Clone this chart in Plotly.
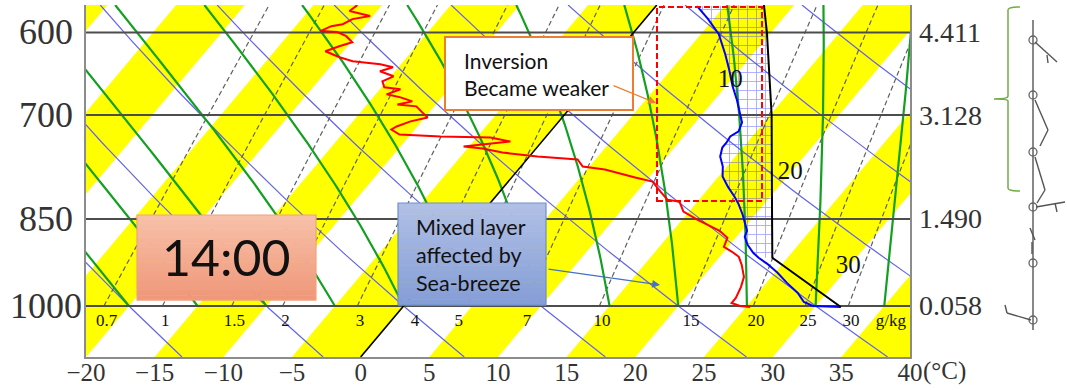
import numpy as np
import plotly.graph_objects as go

# ---------------- data ----------------
# environmental temperature profile (blue)
T_PRES = [571.2, 585.2, 601.9, 624.9, 642.7, 663.5, 679.8, 696.6, 709.8, 721.8, 728.6,
          736.8, 743.8, 756.5, 770.7, 785.3, 800.2, 815.3, 827.6, 843.3, 859.2, 868.9,
          878.7, 892.0, 905.5, 914.0, 924.3, 940.0, 957.8, 975.9, 992.5, 1000.0, 1001.9]
T_TEMP = [3.0, 4.6, 6.3, 8.0, 9.2, 10.5, 11.6, 12.6, 13.4, 13.7, 13.4,
          13.5, 13.5, 13.9, 14.7, 15.3, 16.3, 17.4, 18.2, 19.1, 19.9, 20.4,
          20.6, 21.3, 22.2, 22.9, 23.9, 25.2, 26.5, 27.9, 28.9, 29.8, 31.9]

# dew-point profile (red)
TD_PRES = [570.1, 576.5, 581.9, 585.2, 590.8, 593.0, 598.5, 599.6, 604.2, 611.0, 615.6,
           621.4, 628.4, 633.1, 636.7, 640.2, 645.1, 651.2, 657.4, 664.7, 667.2, 673.5,
           677.3, 682.4, 686.3, 688.8, 696.6, 703.2, 708.4, 715.2, 719.2, 726.0, 728.6,
           730.0, 735.5, 742.4, 745.2, 750.8, 756.5, 760.7, 770.7, 775.1, 786.8, 792.7,
           807.7, 819.9, 823.0, 838.5, 851.2, 862.4, 868.9, 880.4, 895.4, 903.8, 912.3,
           926.1, 947.1, 965.0, 985.1, 994.4, 1000.0, 1001.9]
TD_TEMP = [-21.8, -22.0, -20.2, -21.3, -21.7, -22.4, -22.9, -21.6, -20.7, -19.9, -20.6,
           -21.3, -19.9, -18.7, -16.5, -15.4, -16.1, -14.8, -15.3, -14.8, -13.5, -14.2,
           -13.0, -11.9, -12.8, -11.3, -10.5, -9.8, -10.8, -11.5, -11.7, -10.8, -7.7,
           -4.0, -2.3, -5.4, -3.9, -2.2, 0.6, 3.7, 4.5, 6.3, 9.0, 10.5,
           11.7, 12.7, 13.7, 14.6, 16.1, 17.5, 18.4, 19.4, 19.7, 20.6, 21.4,
           22.1, 23.0, 23.4, 23.7, 23.7, 24.5, 25.3]

# lifted parcel path (black)
PARCEL_PRES = [1001.9, 914.0, 850.0, 700.0, 600.0, 570.0]
PARCEL_TEMP = [31.9, 23.9, 21.5, 15.1, 9.7, 7.8]
LCL_PRES = 914.0

# chart grid definitions
X_TICKS = [-20, -15, -10, -5, 0, 5, 10, 15, 20, 25, 30, 35, 40]
ISOBARS = [600, 700, 850, 1000]
ISOBAR_LABELS = ["600", "700", "850", "1000"]
HEIGHT_KM = ["4.411", "3.128", "1.490", "0.058"]
THETA_C = [-20, -10, 0, 10, 20, 30, 40, 50, 60]
MOIST_T1000 = [-20, -15, -10, -5, 0, 5, 10, 15, 20, 25, 30, 35]
MIXR = [0.7, 1, 1.5, 2, 3, 4, 5, 7, 10, 15, 20, 25, 30]
MIXR_LABELS = ["0.7", "1", "1.5", "2", "3", "4", "5", "7", "10", "15", "20", "25", "30"]
BAND_T_LO = [-45, -35, -25, -15, -5, 5, 15, 25, 35]
ISO_LABEL_T = [10, 20, 30]
ISO_LABEL_P = [657, 780, 930]

P_BOT, P_TOP = 1100.0, 570.0
SKEW = 32.8


def skx(t, p):
    return np.asarray(t, float) + SKEW * np.log(P_BOT / np.asarray(p, float))


def es(tc):
    return 6.112 * np.exp(17.67 * tc / (tc + 243.5))


def moist_rate(tk, p):
    e = es(tk - 273.15)
    rs = 0.622 * e / (p - e)
    Lv, Rd, Cp = 2.501e6, 287.04, 1005.7
    return (Rd * tk + Lv * rs) / (Cp + Lv * Lv * rs * 0.622 / (Rd * tk * tk))


def moist_line(t0):
    lnp = np.linspace(np.log(1000.0), np.log(P_TOP), 90)
    T = [t0 + 273.15]
    for i in range(len(lnp) - 1):
        h = lnp[i + 1] - lnp[i]
        tk = T[-1]
        p0, p1, pm = np.exp(lnp[i]), np.exp(lnp[i + 1]), np.exp(lnp[i] + h / 2)
        k1 = moist_rate(tk, p0)
        k2 = moist_rate(tk + h / 2 * k1, pm)
        k3 = moist_rate(tk + h / 2 * k2, pm)
        k4 = moist_rate(tk + h * k3, p1)
        T.append(tk + h / 6 * (k1 + 2 * k2 + 2 * k3 + k4))
    return np.exp(lnp), np.array(T) - 273.15


def td_from_w(w, p):
    e = w * np.asarray(p, float) / (622.0 + w)
    l = np.log(e / 6.112)
    return 243.5 * l / (17.2 - l)


fig = go.Figure()

# yellow isotherm bands
for tlo in BAND_T_LO:
    thi = tlo + 5
    xs = list(skx([tlo, thi], [P_BOT, P_BOT])) + list(skx([thi, tlo], [P_TOP, P_TOP]))
    fig.add_trace(go.Scatter(x=xs + [xs[0]], y=[P_BOT, P_BOT, P_TOP, P_TOP, P_BOT],
                             fill='toself', fillcolor='#FFFF00', mode='lines',
                             line=dict(width=0), hoverinfo='skip'))

# dry adiabats
pgrid = np.exp(np.linspace(np.log(P_BOT), np.log(P_TOP), 60))
for th in THETA_C:
    t = (th + 273.15) * (pgrid / 1000.0) ** 0.2857 - 273.15
    fig.add_trace(go.Scatter(x=skx(t, pgrid), y=pgrid, mode='lines',
                             line=dict(color='#6262ee', width=1.2), hoverinfo='skip'))

# mixing-ratio lines
pw = np.exp(np.linspace(np.log(1000.0), np.log(P_TOP), 40))
for w in MIXR:
    fig.add_trace(go.Scatter(x=skx(td_from_w(w, pw), pw), y=pw, mode='lines',
                             line=dict(color='#606060', width=1.2, dash='5px,3px'),
                             hoverinfo='skip'))

# moist (pseudo) adiabats
for t0 in MOIST_T1000:
    pm, tm = moist_line(t0)
    fig.add_trace(go.Scatter(x=skx(tm, pm), y=pm, mode='lines',
                             line=dict(color='#12a020', width=2.2), hoverinfo='skip'))

# isobars
for p in ISOBARS:
    fig.add_trace(go.Scatter(x=[-20, 40], y=[p, p], mode='lines',
                             line=dict(color='#4d4d4d', width=2), hoverinfo='skip'))

# 0 degC isotherm
fig.add_trace(go.Scatter(x=skx([0, 0], [P_BOT, P_TOP]), y=[P_BOT, P_TOP], mode='lines',
                         line=dict(color='black', width=1.6), hoverinfo='skip'))

# hatched positive area between parcel and environment above the LCL
pp = np.array(PARCEL_PRES)
pt = np.array(PARCEL_TEMP)
m = pp <= LCL_PRES
o = np.argsort(pp[m])
hx = list(skx(pt[m][o], pp[m][o]))
hy = list(pp[m][o])
tp = np.array(T_PRES)
tt = np.array(T_TEMP)
m2 = tp <= LCL_PRES
hx += list(skx(tt[m2], tp[m2])[::-1])
hy += list(tp[m2][::-1])
fig.add_trace(go.Scatter(x=hx, y=hy, fill='toself', mode='lines', line=dict(width=0),
                         fillcolor='rgba(0,0,0,0)',
                         fillpattern=dict(shape='+', size=9, solidity=0.18,
                                          fgcolor='#4646ff',
                                          bgcolor='rgba(0,0,0,0)', fillmode='overlay'),
                         hoverinfo='skip'))

# dew point, temperature, parcel
fig.add_trace(go.Scatter(x=skx(TD_TEMP, TD_PRES), y=TD_PRES, mode='lines',
                         line=dict(color='#ff0000', width=2), hoverinfo='skip'))
fig.add_trace(go.Scatter(x=skx(T_TEMP, T_PRES), y=T_PRES, mode='lines',
                         line=dict(color='#0000ff', width=2), hoverinfo='skip'))
fig.add_trace(go.Scatter(x=skx(PARCEL_TEMP, PARCEL_PRES), y=PARCEL_PRES, mode='lines',
                         line=dict(color='black', width=2), hoverinfo='skip'))

# isotherm labels
fig.add_trace(go.Scatter(x=skx(ISO_LABEL_T, ISO_LABEL_P), y=ISO_LABEL_P, mode='text',
                         text=[str(v) for v in ISO_LABEL_T],
                         textfont=dict(family='Liberation Serif', size=25, color='#111'),
                         hoverinfo='skip'))

# mixing ratio labels below 1000 hPa
lab_p = [1029.0] * len(MIXR)
lab_x = [float(skx(td_from_w(w, 1000.0), 1000.0)) + 0.2 for w in MIXR]
fig.add_trace(go.Scatter(x=lab_x, y=lab_p, mode='text', text=MIXR_LABELS,
                         textfont=dict(family='Liberation Serif', size=17, color='#111'),
                         hoverinfo='skip'))
fig.add_trace(go.Scatter(x=[lab_x[-1] + 2.9], y=[1029.0], mode='text', text=['g/kg'],
                         textfont=dict(family='Liberation Serif', size=17, color='#111'),
                         hoverinfo='skip'))

W, H = 1067, 390
L, R, T, B = 86, 157, 5, 33
PW, PH = W - L - R, H - T - B


def fx(px):
    return (px - L) / PW


def fy(py):
    return (H - B - py) / PH


fig.update_layout(
    width=W, height=H, margin=dict(l=L, r=R, t=T, b=B, autoexpand=False),
    paper_bgcolor='white', plot_bgcolor='white', showlegend=False,
    xaxis=dict(range=[-20, 40], tickvals=X_TICKS, automargin=False,
               ticktext=[('\u2212' + str(-v)) if v < 0 else str(v) for v in X_TICKS],
               showgrid=False, zeroline=False, showline=True, linecolor='#8c8c8c',
               linewidth=2, ticks='', ticklabelstandoff=-8,
               tickfont=dict(family='Liberation Serif', size=25, color='#333')),
    yaxis=dict(type='log', range=[np.log10(P_BOT), np.log10(P_TOP)], automargin=False,
               showticklabels=False, showgrid=False, zeroline=False, showline=True,
               mirror=True, linecolor='#8c8c8c', linewidth=2, ticks=''),
)

ann = []
for p, lab, hk in zip(ISOBARS, ISOBAR_LABELS, HEIGHT_KM):
    ann.append(dict(xref='paper', yref='y', x=fx(46), y=np.log10(p), text=lab,
                    showarrow=False, xanchor='center', yanchor='middle',
                    font=dict(family='Liberation Serif', size=36, color='#333')))
    ann.append(dict(xref='paper', yref='y', x=fx(917), y=np.log10(p), text=hk,
                    showarrow=False, xanchor='left', yanchor='middle',
                    font=dict(family='Liberation Serif', size=28, color='#333')))
ann.append(dict(xref='paper', yref='paper', x=fx(921), y=fy(371), text='(\u00b0C)',
                showarrow=False, xanchor='left', yanchor='middle',
                font=dict(family='Liberation Serif', size=25, color='#333')))

shapes = []
# Inversion box
shapes.append(dict(type='rect', xref='paper', yref='paper', x0=fx(445), x1=fx(633),
                   y0=fy(110), y1=fy(37), line=dict(color='#ED7D31', width=2),
                   fillcolor='white', layer='above'))
ann.append(dict(xref='paper', yref='paper', x=fx(462), y=fy(74),
                text='Inversion<br>Became weaker', showarrow=False, xanchor='left',
                yanchor='middle', align='left',
                font=dict(family='Lato', size=21, color='#111')))
ann.append(dict(xref='paper', yref='paper', x=fx(656), y=fy(103), ax=-44, ay=-18,
                text='', showarrow=True, arrowhead=2, arrowsize=1.2, arrowwidth=1.3,
                arrowcolor='#ED7D31'))
# red dashed rectangle
shapes.append(dict(type='rect', xref='paper', yref='paper', x0=fx(657), x1=fx(762),
                   y0=fy(201), y1=fy(7), line=dict(color='#ff0000', width=2, dash='6px,3px'),
                   layer='above'))


def grad_box(x0, y0, x1, y1, ctop, cbot, border, n=18):
    for i in range(n):
        f = i / (n - 1)
        c = tuple(int(round(ctop[k] + (cbot[k] - ctop[k]) * f)) for k in range(3))
        ya = y0 + (y1 - y0) * i / n
        yb = y0 + (y1 - y0) * (i + 1) / n
        shapes.append(dict(type='rect', xref='paper', yref='paper', x0=fx(x0), x1=fx(x1),
                           y0=fy(yb + 0.5), y1=fy(ya), line=dict(width=0),
                           fillcolor='rgb(%d,%d,%d)' % c, layer='above'))
    shapes.append(dict(type='rect', xref='paper', yref='paper', x0=fx(x0), x1=fx(x1),
                       y0=fy(y1), y1=fy(y0), line=dict(color=border, width=1.2),
                       layer='above'))


grad_box(137, 215, 316, 300, (247, 192, 168), (240, 152, 122), '#EFA47E')
ann.append(dict(xref='paper', yref='paper', x=fx(226), y=fy(257), text='14:00',
                showarrow=False, xanchor='center', yanchor='middle',
                font=dict(family='Lato', size=50, color='#111')))

grad_box(398, 203, 546, 305, (176, 191, 229), (133, 158, 214), '#6F8FCF')
ann.append(dict(xref='paper', yref='paper', x=fx(414), y=fy(255),
                text='Mixed layer<br>affected by<br>Sea-breeze', showarrow=False,
                xanchor='left', yanchor='middle', align='left',
                font=dict(family='Lato', size=21.5, color='#111')))
ann.append(dict(xref='paper', yref='paper', x=fx(660), y=fy(285), ax=-113, ay=-16,
                text='', showarrow=True, arrowhead=2, arrowsize=1.3, arrowwidth=1.2,
                arrowcolor='#4472C4'))

# wind profile graphic on the right
GRAY = '#555'
shapes.append(dict(type='line', xref='paper', yref='paper', x0=fx(1033), x1=fx(1033),
                   y0=fy(20), y1=fy(330), line=dict(color='#888', width=2)))
for cy in [40, 95, 152, 207, 263, 320]:
    shapes.append(dict(type='circle', xref='paper', yref='paper', x0=fx(1029), x1=fx(1037),
                       y0=fy(cy + 4), y1=fy(cy - 4), line=dict(color='#666', width=1.3),
                       fillcolor='rgba(255,255,255,0)'))
segs = [((1035, 42), (1057, 62)), ((1047, 55), (1048, 63)),
        ((1035, 100), (1048, 130)), ((1048, 130), (1040, 146)),
        ((1035, 157), (1045, 190)), ((1045, 190), (1037, 203)),
        ((1036, 207), (1065, 202)), ((1055, 203), (1057, 212)),
        ((1030, 228), (1035, 240)), ((1032, 242), (1032, 254)),
        ((1031, 320), (1007, 313)), ((1005, 305), (1007, 313))]
for (a, b) in segs:
    shapes.append(dict(type='line', xref='paper', yref='paper', x0=fx(a[0]), y0=fy(a[1]),
                       x1=fx(b[0]), y1=fy(b[1]), line=dict(color=GRAY, width=1.4)))
bp = [(1020, 7), (1008, 10), (1008, 96), (994, 99), (1008, 101), (1008, 188), (1020, 191)]
path = 'M %f,%f' % (fx(bp[0][0]), fy(bp[0][1]))
path += ' Q %f,%f %f,%f' % (fx(1008), fy(7), fx(bp[1][0]), fy(bp[1][1]))
path += ' L %f,%f' % (fx(bp[2][0]), fy(bp[2][1]))
path += ' Q %f,%f %f,%f' % (fx(1008), fy(99), fx(bp[3][0]), fy(bp[3][1]))
path += ' Q %f,%f %f,%f' % (fx(1008), fy(99), fx(bp[4][0]), fy(bp[4][1]))
path += ' L %f,%f' % (fx(bp[5][0]), fy(bp[5][1]))
path += ' Q %f,%f %f,%f' % (fx(1008), fy(191), fx(bp[6][0]), fy(bp[6][1]))
shapes.append(dict(type='path', xref='paper', yref='paper', path=path,
                   line=dict(color='#70AD47', width=1.5)))

fig.update_layout(annotations=ann, shapes=shapes)
fig.write_html('out.html', config={'displayModeBar': False},
               post_script="document.body.style.margin='0';document.body.style.padding='0';")
